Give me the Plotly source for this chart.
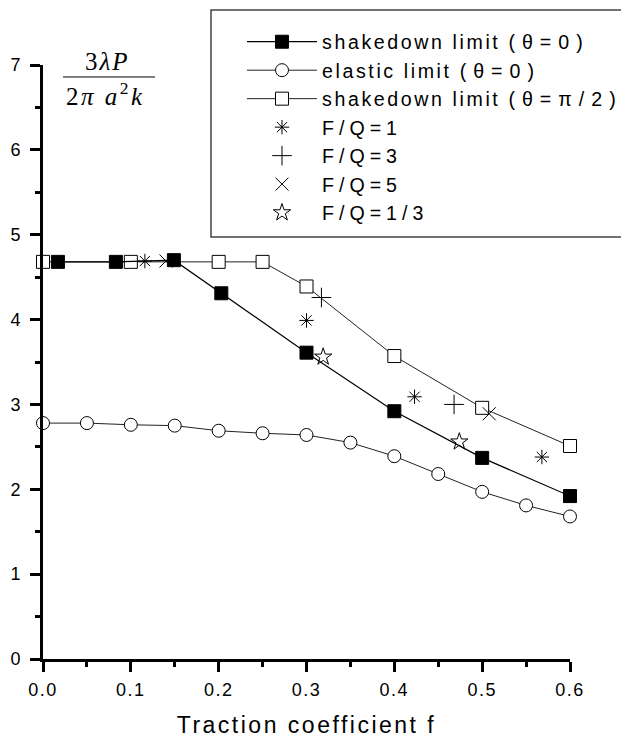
import plotly.graph_objects as go

# ---- data ----
f_sd0 = [0.017, 0.083, 0.149, 0.203, 0.300, 0.400, 0.500, 0.600]
p_sd0 = [4.68, 4.68, 4.70, 4.31, 3.61, 2.92, 2.37, 1.92]

f_el = [0.00, 0.05, 0.10, 0.15, 0.20, 0.25, 0.30, 0.35, 0.40, 0.45, 0.50, 0.55, 0.60]
p_el = [2.78, 2.78, 2.76, 2.75, 2.69, 2.66, 2.64, 2.55, 2.39, 2.18, 1.97, 1.81, 1.68]

f_sd90 = [0.00, 0.10, 0.20, 0.25, 0.30, 0.40, 0.50, 0.60]
p_sd90 = [4.68, 4.68, 4.68, 4.68, 4.39, 3.57, 2.96, 2.51]

f_fq1 = [0.116, 0.300, 0.423, 0.568]
p_fq1 = [4.69, 3.99, 3.09, 2.38]
f_fq3 = [0.317, 0.468]
p_fq3 = [4.26, 3.00]
f_fq5 = [0.140, 0.508]
p_fq5 = [4.69, 2.89]
f_fq13 = [0.319, 0.474]
p_fq13 = [3.56, 2.56]

x_tickvals = [0.0, 0.1, 0.2, 0.3, 0.4, 0.5, 0.6]
x_ticklabels = ["0.0", "0.1", "0.2", "0.3", "0.4", "0.5", "0.6"]
y_tickvals = [0, 1, 2, 3, 4, 5, 6, 7]
y_ticklabels = ["0", "1", "2", "3", "4", "5", "6", "7"]

SANS = "Liberation Sans"
SERIF = "Liberation Serif"


def sp(t, ls=1.5):
    return f"<span style='letter-spacing:{ls}px'>{t}</span>"


names = {
    "sd0": sp("shakedown limit ", 2.6) + sp("(θ=0)", 7),
    "el": sp("elastic limit ", 2.6) + sp("(θ=0)", 7),
    "sd90": sp("shakedown limit ", 2.6) + sp("(θ=π/2)", 7),
    "fq1": sp("F/Q=1", 5),
    "fq3": sp("F/Q=3", 5),
    "fq5": sp("F/Q=5", 5),
    "fq13": sp("F/Q=1/3", 5),
}

fig = go.Figure()

fig.add_trace(go.Scatter(
    x=f_el, y=p_el, mode="lines+markers", name=names["el"], legendrank=2,
    line=dict(color="#222", width=1),
    marker=dict(symbol="circle", size=13, color="white",
                line=dict(color="black", width=1)),
    cliponaxis=False))

fig.add_trace(go.Scatter(
    x=f_sd90, y=p_sd90, mode="lines+markers", name=names["sd90"], legendrank=3,
    line=dict(color="#222", width=1),
    marker=dict(symbol="square", size=13, color="white",
                line=dict(color="black", width=1)),
    cliponaxis=False))

fig.add_trace(go.Scatter(
    x=f_fq1, y=p_fq1, mode="markers", name=names["fq1"], legendrank=4,
    marker=dict(symbol="asterisk-open", size=12, color="black",
                line=dict(color="black", width=1)),
    cliponaxis=False))

fig.add_trace(go.Scatter(
    x=f_fq3, y=p_fq3, mode="markers", name=names["fq3"], legendrank=5,
    marker=dict(symbol="cross-thin-open", size=14, color="black",
                line=dict(color="black", width=1)),
    cliponaxis=False))

fig.add_trace(go.Scatter(
    x=f_fq5, y=p_fq5, mode="markers", name=names["fq5"], legendrank=6,
    marker=dict(symbol="x-thin-open", size=13, color="black",
                line=dict(color="black", width=1)),
    cliponaxis=False))

fig.add_trace(go.Scatter(
    x=f_fq13, y=p_fq13, mode="markers", name=names["fq13"], legendrank=7,
    marker=dict(symbol="star-open", size=13, color="black",
                line=dict(color="black", width=1)),
    cliponaxis=False))

fig.add_trace(go.Scatter(
    x=f_sd0, y=p_sd0, mode="lines+markers", name=names["sd0"], legendrank=1,
    line=dict(color="black", width=1.2),
    marker=dict(symbol="square", size=13, color="black",
                line=dict(color="black", width=1)),
    cliponaxis=False))

axis_common = dict(
    showline=True, linecolor="black", linewidth=3,
    ticks="outside", ticklen=10, tickwidth=3, tickcolor="black",
    showgrid=False, zeroline=False,
    tickfont=dict(family=SANS, size=18, color="black"),
)

fig.update_xaxes(
    range=[0, 0.6], tickmode="array", tickvals=x_tickvals,
    ticktext=[sp(t) for t in x_ticklabels],
    minor=dict(ticks="outside", ticklen=5, tickwidth=3, tickcolor="black",
               tickmode="linear", tick0=0, dtick=0.05, showgrid=False),
    ticklabelstandoff=2,
    title=dict(text=sp("Traction coefficient f", 2.5),
               font=dict(family=SANS, size=23, color="black"), standoff=19),
    **axis_common)

fig.update_yaxes(
    range=[0, 7], tickmode="array", tickvals=y_tickvals,
    ticktext=y_ticklabels,
    minor=dict(ticks="outside", ticklen=5, tickwidth=3, tickcolor="black",
               tickmode="linear", tick0=0, dtick=0.5, showgrid=False),
    ticklabelstandoff=6,
    **axis_common)

# y-axis quantity as a fraction
fig.add_annotation(xref="paper", yref="paper", x=0.1233, y=1.0067,
                   text="<span style='letter-spacing:2px'>3<i>λP</i></span>",
                   showarrow=False,
                   font=dict(family=SERIF, size=25, color="black"),
                   xanchor="center", yanchor="middle")
fig.add_annotation(xref="paper", yref="paper", x=0.1195, y=0.951,
                   text="<span style='letter-spacing:2.5px'>2<i>π a</i><sup>2</sup><i>k</i></span>",
                   showarrow=False,
                   font=dict(family=SERIF, size=25, color="black"),
                   xanchor="center", yanchor="middle")
fig.add_shape(type="line", xref="paper", yref="paper",
              x0=0.038, x1=0.2125, y0=0.9798, y1=0.9798,
              line=dict(color="black", width=1))

# legend frame
fig.add_shape(type="rect", xref="paper", yref="paper",
              x0=0.3188, x1=1.25, y0=0.7104, y1=1.0926,
              line=dict(color="#444", width=1.5), fillcolor="white",
              layer="below")

# the page adds an 8px body margin; margins compensate so the plot sits
# where the reference puts it
fig.update_layout(
    width=629, height=738,
    margin=dict(l=35, r=67, t=57, b=87, autoexpand=False),
    paper_bgcolor="white", plot_bgcolor="rgba(0,0,0,0)",
    font=dict(family=SANS, color="black"),
    showlegend=True,
    legend=dict(x=0.3776, xanchor="left", y=1.0716, yanchor="top",
                bgcolor="rgba(0,0,0,0)", borderwidth=0,
                font=dict(family=SANS, size=19.6, color="black"),
                itemwidth=70, tracegroupgap=0, traceorder="normal"),
)

fig.write_html("out.html")
